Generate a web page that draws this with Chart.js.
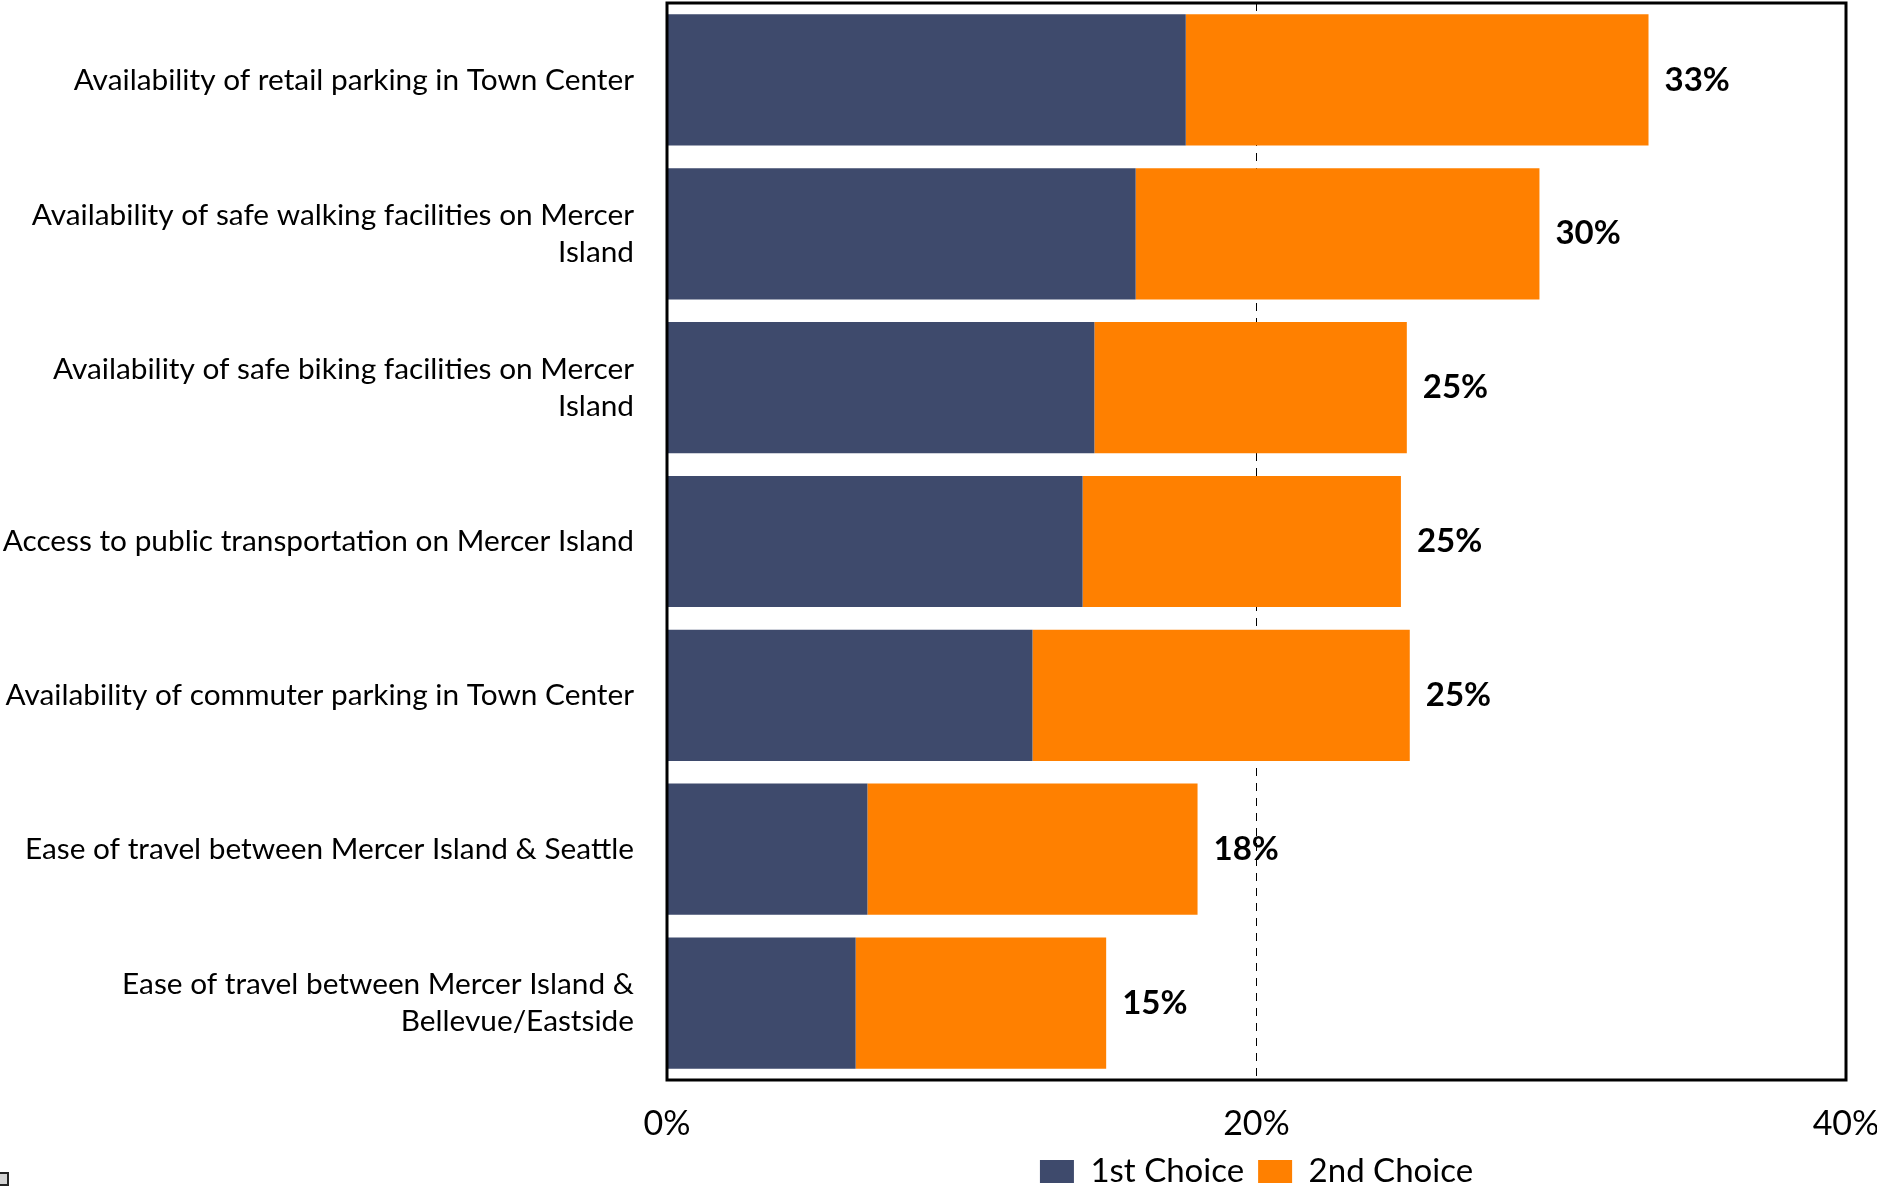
<!DOCTYPE html>
<html>
<head>
<meta charset="utf-8">
<script src="https://cdn.jsdelivr.net/npm/chart.js@4.4.1/dist/chart.umd.min.js"></script>
<style>
  html, body { margin:0; padding:0; background:#fff; overflow:hidden; }
  #wrap { position:relative; width:1877px; height:1198px; }
  #corner { position:absolute; left:-2px; top:1172px; width:11px; height:14px; background:#d2d2d2; border:2px solid #222; box-sizing:border-box; }
</style>
</head>
<body>
<div id="wrap">
  <canvas id="choices"></canvas>
  <div id="corner"></div>
</div>
<script>
/* global Chart */

// survey items, top to bottom
const categories = [
  'Availability of retail parking in Town Center',
  ['Availability of safe walking facilities on Mercer', 'Island'],
  ['Availability of safe biking facilities on Mercer', 'Island'],
  'Access to public transportation on Mercer Island',
  'Availability of commuter parking in Town Center',
  'Ease of travel between Mercer Island & Seattle',
  ['Ease of travel between Mercer Island &', 'Bellevue/Eastside'],
];

// share of respondents, in percent
const firstChoice  = [17.6, 15.9, 14.5, 14.1, 12.4, 6.8, 6.4];
const secondChoice = [15.7, 13.7, 10.6, 10.8, 12.8, 11.2, 8.5];

const xTicks = [0, 20, 40];

const FONT = 'Lato';
const NAVY = '#3e4a6c', ORANGE = '#ff8000';

Chart.defaults.color = '#000';
Chart.defaults.font.family = FONT;

// scales should not push the plot area in for their edge labels
const noEdgePadding = s => { s.paddingTop = s.paddingBottom = s.paddingLeft = s.paddingRight = 0; };

// solid black box round the plot area
const frame = {
  id: 'frame',
  afterDatasetsDraw(chart) {
    const { ctx, chartArea: a } = chart;
    ctx.save();
    ctx.strokeStyle = '#000';
    ctx.lineWidth = 3;
    ctx.strokeRect(a.left, a.top, a.right - a.left, a.bottom - a.top);
    ctx.restore();
  },
};

// bold total at the end of each stacked bar
const totals = {
  id: 'totals',
  afterDatasetsDraw(chart) {
    const { ctx } = chart;
    const last = chart.getDatasetMeta(chart.data.datasets.length - 1);
    ctx.save();
    ctx.font = `bold 33px ${FONT}`;
    ctx.fillStyle = '#000';
    ctx.textAlign = 'left';
    ctx.textBaseline = 'middle';
    last.data.forEach((bar, i) => {
      const t = firstChoice[i] + secondChoice[i];
      ctx.fillText(`${Math.round(t)}%`, bar.x + 16, bar.y);
    });
    ctx.restore();
  },
};

new Chart(document.getElementById('choices'), {
  type: 'bar',
  data: {
    labels: categories,
    datasets: [
      { label: '1st Choice', data: firstChoice, backgroundColor: NAVY, categoryPercentage: 1, barPercentage: 0.853 },
      { label: '2nd Choice', data: secondChoice, backgroundColor: ORANGE, categoryPercentage: 1, barPercentage: 0.853 },
    ],
  },
  options: {
    indexAxis: 'y',
    responsive: true, maintainAspectRatio: false,
    animation: false,
    layout: { padding: { top: 3, right: 31, left: 0, bottom: 0 } },
    plugins: {
      legend: {
        position: 'bottom', fullSize: false,
        labels: { font: { size: 33, family: FONT }, boxWidth: 34, boxHeight: 23, padding: 14, color: '#000' },
      },
      tooltip: { enabled: false },
    },
    scales: {
      x: {
        stacked: true, min: 0, max: 40,
        afterBuildTicks: s => { s.ticks = xTicks.map(v => ({ value: v })); },
        afterFit: s => { s.height = 61; noEdgePadding(s); },
        ticks: { callback: v => `${v}%`, padding: 24, font: { size: 34, family: FONT }, maxRotation: 0 },
        grid: { color: '#000', lineWidth: 1, drawTicks: false },
        border: { display: false, dash: [8, 7] },
      },
      y: {
        stacked: true,
        afterFit: s => { s.width = 667; noEdgePadding(s); },
        ticks: { padding: 33, font: { size: 29.8, family: FONT, lineHeight: '37px' }, autoSkip: false },
        grid: { display: false, drawTicks: false },
        border: { display: false },
      },
    },
  },
  plugins: [frame, totals],
});
</script>
</body>
</html>
